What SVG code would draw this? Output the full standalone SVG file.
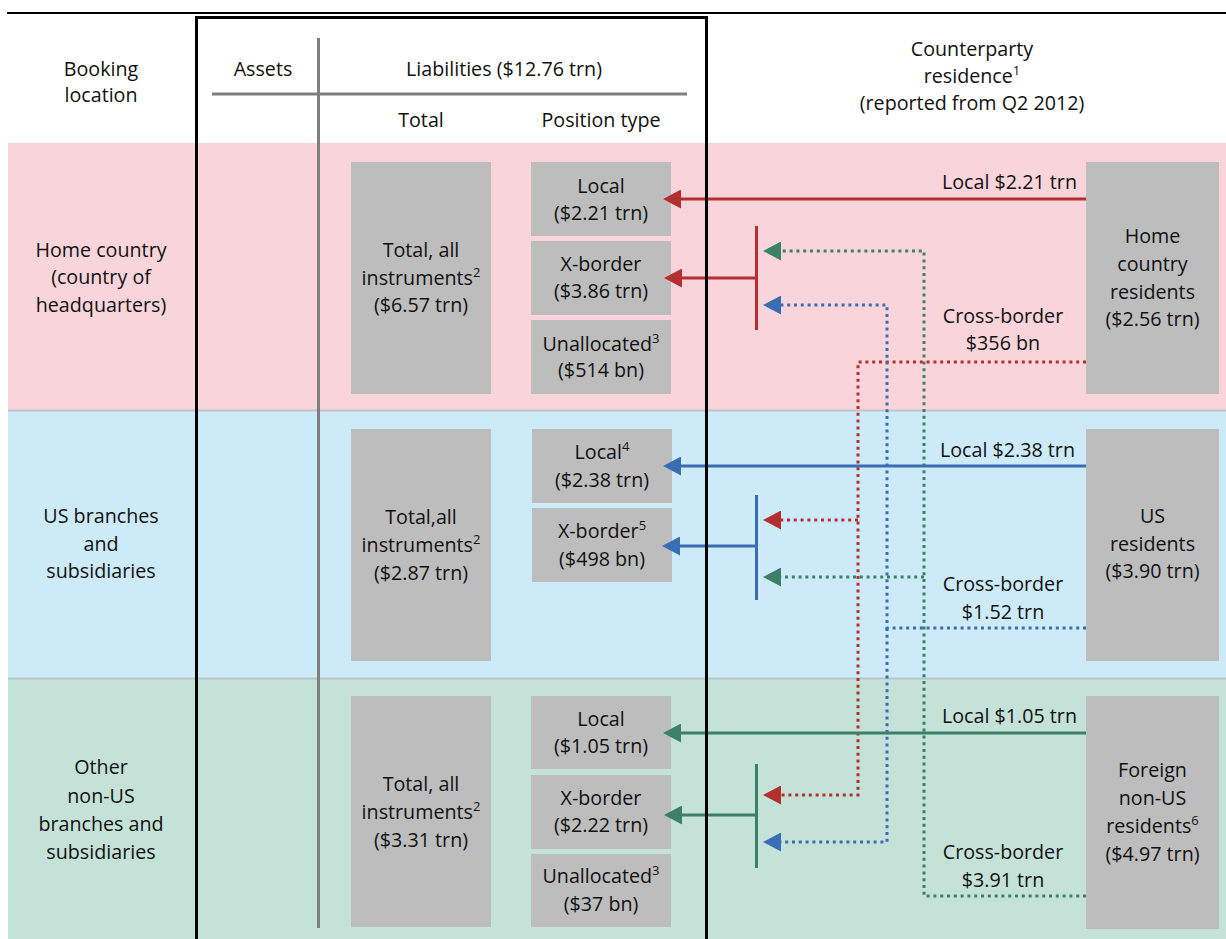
<svg xmlns="http://www.w3.org/2000/svg" width="1226" height="939" viewBox="0 0 1226 939">
<style>
text{font-family:"Open Sans","Noto Sans","DejaVu Sans",sans-serif;font-size:19.7px;fill:#111;text-anchor:middle}
.r{text-anchor:end}
.sup{font-size:13px}
.box{fill:#bdbdbd}
.sr{stroke:#b3302f;stroke-width:3;fill:none}
.sb{stroke:#3b6db4;stroke-width:3;fill:none}
.sg{stroke:#3d8068;stroke-width:3;fill:none}
.dot{stroke-dasharray:3 3.8}
</style>
<defs>
<marker id="ar" viewBox="0 0 18 19" refX="0" refY="9.5" markerWidth="18" markerHeight="19" markerUnits="userSpaceOnUse" orient="auto"><path d="M18,0 L0,9.5 L18,19 z" transform="rotate(180 9 9.5)" fill="#b3302f"/></marker>
<marker id="ab" viewBox="0 0 18 19" refX="0" refY="9.5" markerWidth="18" markerHeight="19" markerUnits="userSpaceOnUse" orient="auto"><path d="M18,0 L0,9.5 L18,19 z" transform="rotate(180 9 9.5)" fill="#3b6db4"/></marker>
<marker id="ag" viewBox="0 0 18 19" refX="0" refY="9.5" markerWidth="18" markerHeight="19" markerUnits="userSpaceOnUse" orient="auto"><path d="M18,0 L0,9.5 L18,19 z" transform="rotate(180 9 9.5)" fill="#3d8068"/></marker>
</defs>
<rect width="1226" height="939" fill="#fff"/>
<!-- bands -->
<rect x="8" y="143" width="1218" height="267" fill="#f9d5db"/>
<rect x="8" y="411" width="1218" height="267" fill="#cdeaf8"/>
<rect x="8" y="679" width="1218" height="260" fill="#c5e2d8"/>
<line x1="8" y1="410.5" x2="1226" y2="410.5" stroke="#c4c2cc" stroke-width="2"/>
<line x1="8" y1="678.5" x2="1226" y2="678.5" stroke="#b9c4cc" stroke-width="2"/>
<line x1="7" y1="13" x2="1226" y2="13" stroke="#000" stroke-width="2"/>
<!-- header -->
<g id="header">
<text x="101" y="76">Booking</text>
<text x="101" y="102">location</text>
<text x="263" y="76">Assets</text>
<text x="504" y="76">Liabilities ($12.76 trn)</text>
<text x="421" y="127">Total</text>
<text x="601" y="127">Position type</text>
<text x="972" y="56">Counterparty</text>
<text x="972" y="83">residence<tspan class="sup" dy="-8">1</tspan></text>
<text x="972" y="110">(reported from Q2 2012)</text>
</g>
<line x1="318.5" y1="38" x2="318.5" y2="928" stroke="#7f7f7f" stroke-width="3"/>
<line x1="212" y1="94" x2="687" y2="94" stroke="#7f7f7f" stroke-width="3"/>
<!-- row labels -->
<g id="row-home"><text x="101" y="257">Home country</text><text x="101" y="284">(country of</text><text x="101" y="312">headquarters)</text></g>
<g id="row-us"><text x="101" y="523">US branches</text><text x="101" y="551">and</text><text x="101" y="578">subsidiaries</text></g>
<g id="row-other"><text x="101" y="774">Other</text><text x="101" y="803">non-US</text><text x="101" y="831">branches and</text><text x="101" y="859">subsidiaries</text></g>
<!-- home row boxes -->
<g id="home-total"><rect class="box" x="351" y="162" width="140" height="232"/><text x="421" y="257">Total, all</text><text x="421" y="284.5">instruments<tspan class="sup" dy="-8">2</tspan></text><text x="421" y="312">($6.57 trn)</text></g>
<g id="home-local"><rect class="box" x="531" y="162" width="140" height="74"/><text x="601" y="193">Local</text><text x="601" y="220">($2.21 trn)</text></g>
<g id="home-xborder"><rect class="box" x="531" y="241" width="140" height="74"/><text x="601" y="271">X-border</text><text x="601" y="298">($3.86 trn)</text></g>
<g id="home-unalloc"><rect class="box" x="531" y="320" width="140" height="74"/><text x="601" y="351">Unallocated<tspan class="sup" dy="-8">3</tspan></text><text x="601" y="377">($514 bn)</text></g>
<g id="home-res"><rect class="box" x="1086" y="162" width="133" height="232"/><text x="1152.5" y="243">Home</text><text x="1152.5" y="271">country</text><text x="1152.5" y="299">residents</text><text x="1152.5" y="326">($2.56 trn)</text></g>
<!-- us row boxes -->
<g id="us-total"><rect class="box" x="351" y="429" width="140" height="232"/><text x="421" y="524">Total,all</text><text x="421" y="552">instruments<tspan class="sup" dy="-8">2</tspan></text><text x="421" y="580">($2.87 trn)</text></g>
<g id="us-local"><rect class="box" x="532" y="429" width="140" height="74"/><text x="602" y="459">Local<tspan class="sup" dy="-8">4</tspan></text><text x="602" y="486.5">($2.38 trn)</text></g>
<g id="us-xborder"><rect class="box" x="532" y="508" width="140" height="74"/><text x="602" y="538">X-border<tspan class="sup" dy="-8">5</tspan></text><text x="602" y="565.5">($498 bn)</text></g>
<g id="us-res"><rect class="box" x="1086" y="429" width="133" height="232"/><text x="1152.5" y="523">US</text><text x="1152.5" y="551">residents</text><text x="1152.5" y="578">($3.90 trn)</text></g>
<!-- other row boxes -->
<g id="oth-total"><rect class="box" x="351" y="696" width="140" height="231"/><text x="421" y="791">Total, all</text><text x="421" y="818.5">instruments<tspan class="sup" dy="-8">2</tspan></text><text x="421" y="846.5">($3.31 trn)</text></g>
<g id="oth-local"><rect class="box" x="531" y="696" width="140" height="73"/><text x="601" y="726">Local</text><text x="601" y="753">($1.05 trn)</text></g>
<g id="oth-xborder"><rect class="box" x="531" y="775" width="140" height="74"/><text x="601" y="805">X-border</text><text x="601" y="832">($2.22 trn)</text></g>
<g id="oth-unalloc"><rect class="box" x="531" y="854" width="140" height="73"/><text x="601" y="883">Unallocated<tspan class="sup" dy="-8">3</tspan></text><text x="601" y="911">($37 bn)</text></g>
<g id="oth-res"><rect class="box" x="1086" y="696" width="133" height="233"/><text x="1152.5" y="777">Foreign</text><text x="1152.5" y="805">non-US</text><text x="1152.5" y="833">residents<tspan class="sup" dy="-8">6</tspan></text><text x="1152.5" y="861">($4.97 trn)</text></g>
<!-- connectors -->
<g id="connectors">
<path class="sr dot" d="M1086,362 H858 V795 H781" marker-end="url(#ar)"/>
<path class="sr dot" d="M858,520 H781" marker-end="url(#ar)"/>
<path class="sb dot" d="M1086,628 H887 V305 H781" marker-end="url(#ab)"/>
<path class="sb dot" d="M887,628 V842 H781" marker-end="url(#ab)"/>
<path class="sg dot" d="M1086,896 H924 V251 H781" marker-end="url(#ag)"/>
<path class="sg dot" d="M924,577 H781" marker-end="url(#ag)"/>
<path class="sr" d="M1086,199 H681" marker-end="url(#ar)"/>
<path class="sr" d="M756,278 H682" marker-end="url(#ar)"/>
<path class="sr" d="M756.5,226 V330"/>
<path class="sb" d="M1086,466 H681" marker-end="url(#ab)"/>
<path class="sb" d="M756,546 H680" marker-end="url(#ab)"/>
<path class="sb" d="M756.5,495 V600"/>
<path class="sg" d="M1086,733 H681" marker-end="url(#ag)"/>
<path class="sg" d="M756,815 H682" marker-end="url(#ag)"/>
<path class="sg" d="M756.5,764 V868"/>
<text class="r" x="1077" y="189">Local $2.21 trn</text>
<text x="1003" y="323">Cross-border</text><text x="1003" y="350">$356 bn</text>
<text class="r" x="1075" y="457">Local $2.38 trn</text>
<text x="1003" y="591">Cross-border</text><text x="1003" y="619">$1.52 trn</text>
<text class="r" x="1077" y="723">Local $1.05 trn</text>
<text x="1003" y="859">Cross-border</text><text x="1003" y="887">$3.91 trn</text>
</g>
<!-- frame -->
<path d="M196.5,945 V17.5 H706.5 V945" fill="none" stroke="#000" stroke-width="3"/>
</svg>
